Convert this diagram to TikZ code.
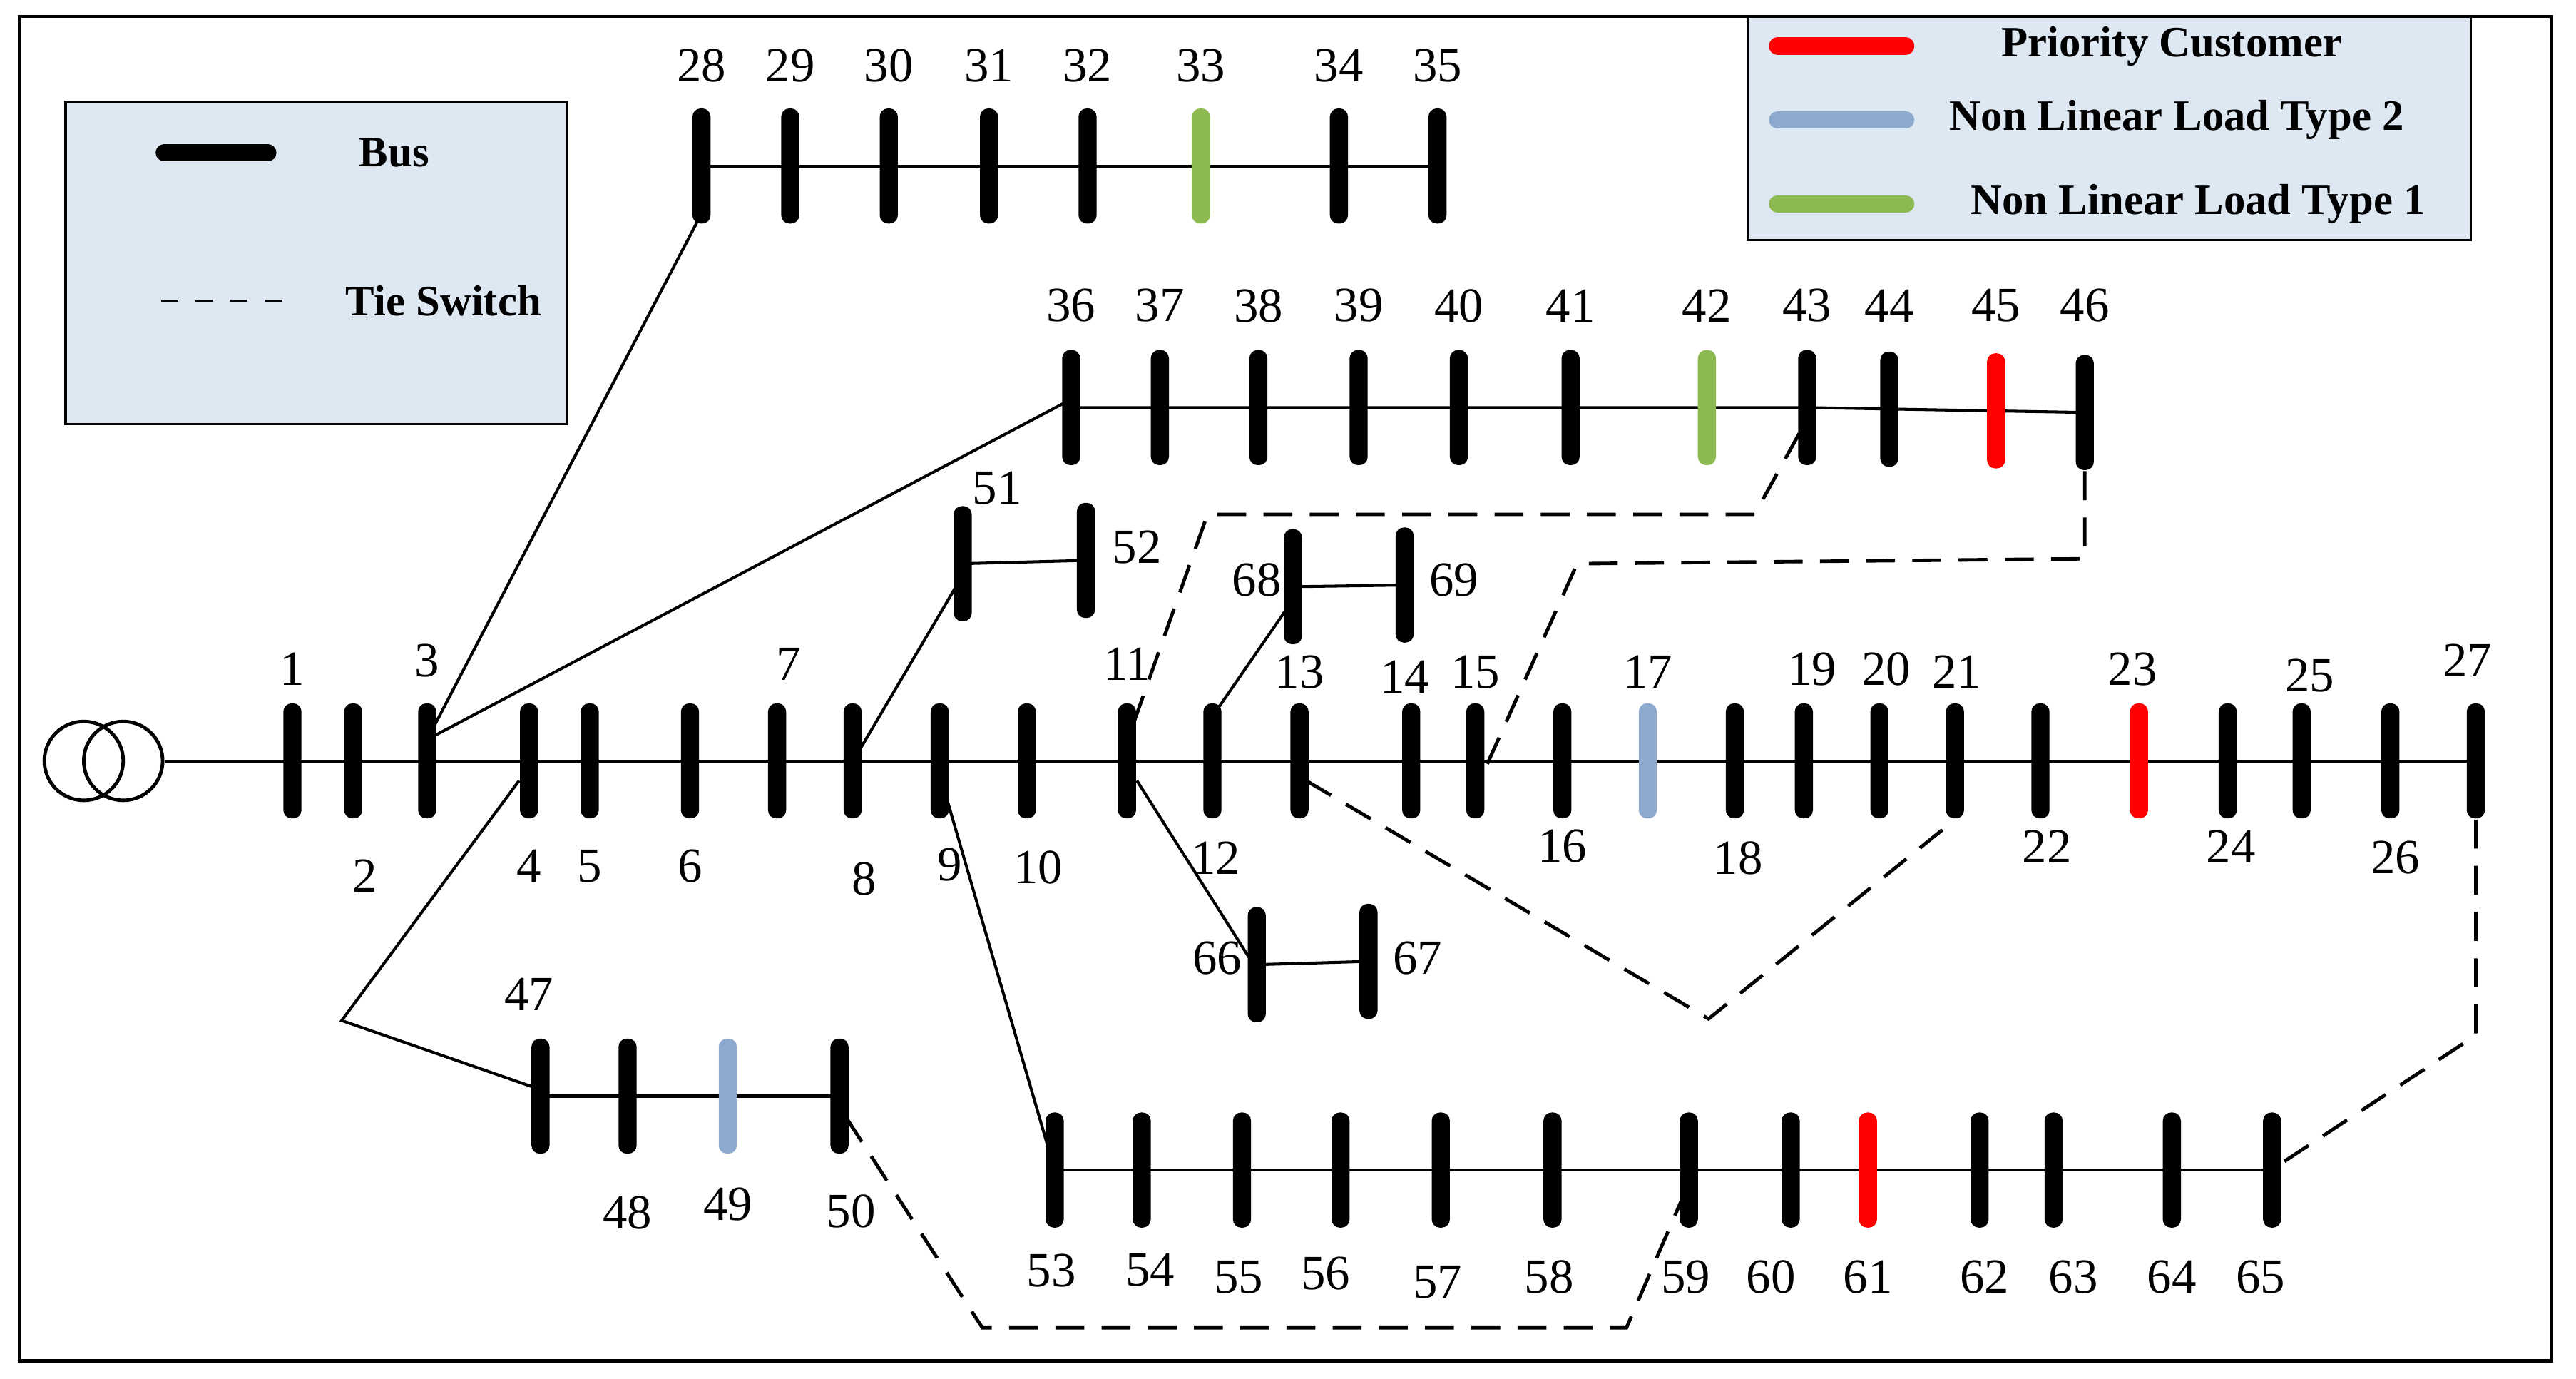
\documentclass[tikz,border=0pt]{standalone}
\usepackage{fontspec}
\setmainfont{Liberation Serif}
\usetikzlibrary{backgrounds,calc}
\definecolor{legbg}{RGB}{222,232,243}
\definecolor{nlone}{RGB}{140,185,80}
\definecolor{nltwo}{RGB}{140,170,205}
\tikzset{
  bus/.style={fill=#1, rounded corners=0.05cm, minimum width=0.11cm, minimum height=0.7cm, inner sep=0pt},
  bus/.default=black,
  lbl/.style={font=\fontsize{8.5}{9}\selectfont, inner sep=0pt},
  legtxt/.style={font=\fontsize{7.5}{9}\selectfont\bfseries, inner sep=0pt},
  feeder/.style={line width=0.5pt},
  tie/.style={line width=0.6pt, dash pattern=on 5pt off 3pt}
}
\begin{document}
\begin{tikzpicture}[x=0.01cm, y=-0.01cm]
\useasboundingbox (0,0) rectangle (1568,839);
\draw[line width=0.6pt] (12,10) rectangle (1553,828);

% legends
\node[draw, line width=0.4pt, fill=legbg, minimum width=3.05cm, minimum height=1.96cm, inner sep=0] (legA) at (192.5,160) {};
\draw[line width=3pt, line cap=round] (100,93) -- (163,93);
\node[legtxt] (lgbus) at (240,93) {Bus};
\draw[line width=0.4pt, dashed] (98,183) -- (175,183);
\node[legtxt] (lgtie) at (270,183) {Tie Switch};
\node[draw, line width=0.4pt, fill=legbg, minimum width=4.4cm, minimum height=1.36cm, inner sep=0] (legB) at (1284,78) {};
\draw[line width=3pt, line cap=round, red] (1082,28) -- (1160,28);
\node[legtxt] (lgpc) at (1322,28) {Priority Customer};
\draw[line width=3pt, line cap=round, nltwo] (1082,73) -- (1160,73);
\node[legtxt] (lgnl2) at (1325,73) {Non Linear Load Type 2};
\draw[line width=3pt, line cap=round, nlone] (1082,124) -- (1160,124);
\node[legtxt] (lgnl1) at (1338,124) {Non Linear Load Type 1};

% transformer
\node[draw, circle, line width=0.6pt, minimum size=0.48cm, inner sep=0] (tra) at (51,463) {};
\node[draw, circle, line width=0.6pt, minimum size=0.48cm, inner sep=0] (trb) at (75,463) {};

% main feeder 1-27
\foreach \x/\n/\lx/\ly/\c in {178/1/178/407/black, 215/2/222/533/black, 260/3/260/402/black,
  322/4/322/527/black, 359/5/359/527/black, 420/6/420/527/black, 473/7/480/404/black,
  519/8/526/535/black, 572/9/578/526/black, 625/10/632/528/black, 686/11/686/404/black,
  738/12/740/522/black, 791/13/791/409/black, 859/14/855/412/black, 898/15/898/409/black,
  951/16/951/515/black, 1003/17/1003/409/nltwo, 1056/18/1058/522/black, 1098/19/1103/407/black,
  1144/20/1148/407/black, 1190/21/1191/409/black, 1242/22/1246/515/black, 1302/23/1298/407/red,
  1356/24/1358/515/black, 1401/25/1406/411/black, 1455/26/1458/522/black, 1507/27/1502/402/black}
{
  \node[bus=\c] (b\n) at (\x,463) {};
  \node[lbl] (l\n) at (\lx,\ly) {\n};
}
% lateral 28-35
\foreach \x/\n/\c in {427/28/black, 481/29/black, 541/30/black, 602/31/black, 662/32/black,
  731/33/nlone, 815/34/black, 875/35/black}
{
  \node[bus=\c] (b\n) at (\x,101) {};
  \node[lbl] (l\n) at (\x,40) {\n};
}
% lateral 36-46
\foreach \x/\n/\y/\c in {652/36/248/black, 706/37/248/black, 766/38/248/black, 827/39/248/black,
  888/40/248/black, 956/41/248/black, 1039/42/248/nlone, 1100/43/248/black, 1150/44/249/black,
  1215/45/250/red, 1269/46/251/black}
{
  \node[bus=\c] (b\n) at (\x,\y) {};
  \node[lbl] (l\n) at (\x,186) {\n};
}
% laterals 47-52, 66-69
\foreach \x/\n/\y/\lx/\ly/\c in {329/47/667/322/605/black, 382/48/667/382/738/black,
  443/49/667/443/733/nltwo, 511/50/667/518/737/black,
  586/51/343/607/297/black, 661/52/341/692/333/black,
  765/66/587/741/583/black, 833/67/585/863/583/black,
  787/68/357/765/353/black, 855/69/356/885/353/black}
{
  \node[bus=\c] (b\n) at (\x,\y) {};
  \node[lbl] (l\n) at (\lx,\ly) {\n};
}
% lateral 53-65
\foreach \x/\n/\lx/\ly/\c in {642/53/640/773/black, 695/54/700/773/black, 756/55/754/777/black,
  816/56/807/775/black, 877/57/875/780/black, 945/58/943/777/black, 1028/59/1026/777/black,
  1090/60/1078/777/black, 1137/61/1137/777/red, 1205/62/1208/777/black, 1250/63/1262/777/black,
  1322/64/1322/777/black, 1383/65/1376/777/black}
{
  \node[bus=\c] (b\n) at (\x,712) {};
  \node[lbl] (l\n) at (\lx,\ly) {\n};
}
\coordinate (k4) at (208,621);
\coordinate (t11) at (735,313);
\coordinate (t43) at (1068,313);
\coordinate (t46a) at (1269,340);
\coordinate (t46b) at (960,343);
\coordinate (t13) at (1040,620);
\coordinate (t27) at (1507,630);
\coordinate (t50a) at (598,808);
\coordinate (t50b) at (990,808);

\begin{scope}[on background layer]
\draw[feeder] (trb.east) -- (b27.center);
\draw[feeder] (b28.center) -- (b35.center);
\draw[feeder] (b36.center) -- (b43.center) -- (b46.center);
\draw[feeder] (b47.center) -- (b50.center);
\draw[feeder] (b51.center) -- (b52.center);
\draw[feeder] (b66.center) -- (b67.center);
\draw[feeder] (b68.center) -- (b69.center);
\draw[feeder] (b53.center) -- (b60.center) -- (b65.center);
\draw[feeder] ($(b3)+(0,-13)$) -- ($(b28)+(0,29)$);
\draw[feeder] ($(b3)+(0,-13)$) -- ($(b36)+(0,-5)$);
\draw[feeder] ($(b4)+(-6,12)$) -- (k4) -- ($(b47)+(0,-4)$);
\draw[feeder] ($(b8)+(5,-8)$) -- ($(b51)+(0,7)$);
\draw[feeder] ($(b9)+(4,22)$) -- (b53.center);
\draw[feeder] ($(b11)+(6,12)$) -- ($(b66)+(0,3)$);
\draw[feeder] ($(b12)+(2,-30)$) -- ($(b68)+(0,8)$);
\draw[tie] ($(b11)+(4,-23)$) -- (t11) -- (t43) -- ($(b43)+(0,7)$);
\draw[tie] (b46.south) -- (t46a) -- (t46b) -- ($(b15)+(5,7)$);
\draw[tie] ($(b13)+(4,12)$) -- (t13) -- (b21.south);
\draw[tie] (b27.south) -- (t27) -- ($(b65)+(7,-5)$);
\draw[tie] ($(b50)+(4,13)$) -- (t50a) -- (t50b) -- ($(b59)+(0,8)$);
\end{scope}
\end{tikzpicture}
\end{document}
